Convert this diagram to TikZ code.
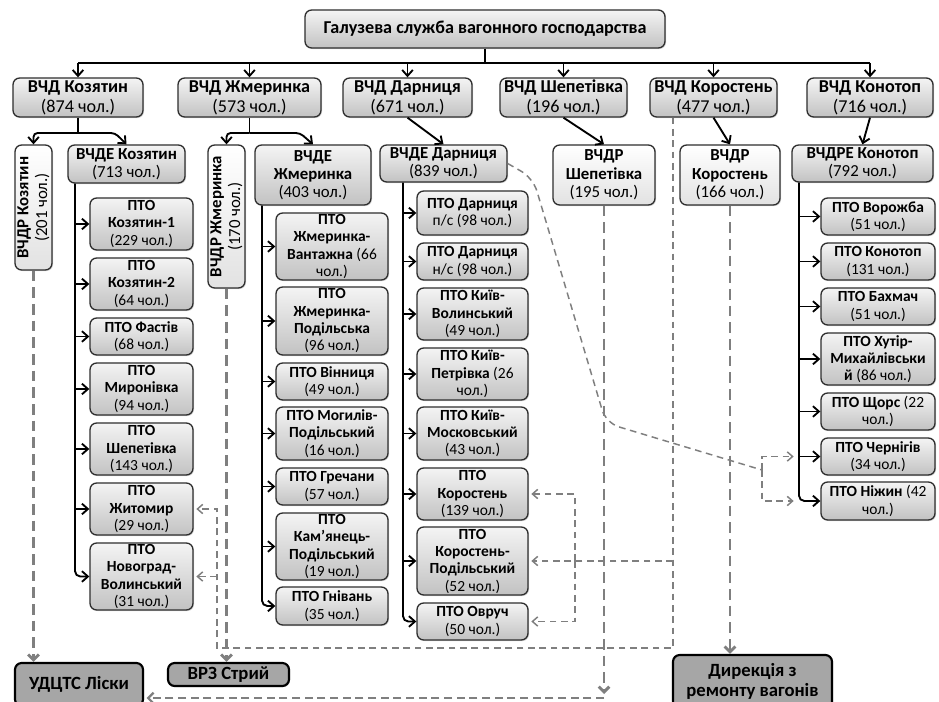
\documentclass[tikz,border=0pt]{standalone}
\usepackage{fontspec}
\setmainfont{Carlito}
\usetikzlibrary{arrows.meta,shadows,calc}
\definecolor{boxtop}{HTML}{F4F4F4}
\definecolor{boxbot}{HTML}{C2C2C2}
\definecolor{lbot}{HTML}{E2E2E2}
\definecolor{bordc}{HTML}{2E2E2E}
\definecolor{darkfill}{HTML}{A6A6A6}
\definecolor{dgray}{HTML}{7F7F7F}
\newcommand\tb[1]{\textbf{#1}}
\newcommand\mkbox[7]{\node[#1, minimum width={(#5-#3)*0.75pt}, minimum height={(#6-#4)*0.75pt}] (#2) at ({(#3+#5)/2},{(#4+#6)/2}) {#7};}
\newcommand\mkvbox[7]{\node[#1, rotate=90, minimum width={(#6-#4)*0.75pt}, minimum height={(#5-#3)*0.75pt}] (#2) at ({(#3+#5)/2},{(#4+#6)/2}) {#7};}
\tikzset{
  bx/.style={draw=bordc, line width=1pt, rounded corners=5pt, top color=boxtop, bottom color=boxbot,
    align=center, inner sep=0pt, font=\fontsize{11.6}{13}\selectfont,
    drop shadow={shadow xshift=0.8pt, shadow yshift=-0.8pt, opacity=0.3}},
  hbx/.style={bx, font=\fontsize{13.6}{15}\selectfont},
  mbx/.style={bx, font=\fontsize{12.6}{13.6}\selectfont},
  lbx/.style={bx, top color=white, bottom color=lbot, font=\fontsize{12.6}{14}\selectfont},
  dbx/.style={draw=black, line width=1.6pt, rounded corners=5pt, fill=darkfill, align=center, inner sep=0pt,
    font=\fontsize{14}{15.5}\selectfont\bfseries,
    drop shadow={shadow xshift=0.8pt, shadow yshift=-0.8pt, opacity=0.3}},
  ln/.style={draw=black, line width=1.4pt},
  arr/.style={ln, -{Straight Barb[length=4.5pt,width=8pt]}},
  dthick/.style={draw=dgray, line width=2.2pt, dash pattern=on 8pt off 4.5pt, -{Straight Barb[length=4pt,width=8pt]}},
  dmid/.style={draw=dgray, line width=1.6pt, dash pattern=on 6pt off 3.5pt, -{Straight Barb[length=4pt,width=8pt]}},
  dthin/.style={draw=dgray, line width=1.1pt, dash pattern=on 5pt off 3.5pt},
  dthinA/.style={dthin, -{Straight Barb[length=4pt,width=7pt]}, shorten >=2pt},
}
\begin{document}
\begin{tikzpicture}[x=0.75pt,y=-0.75pt]
\useasboundingbox (0,0) rectangle (939,702);
\clip (0,0) rectangle (939,702);
\fill[white] (0,0) rectangle (939,702);

% title and first row
\mkbox{hbx, font=\fontsize{13.6}{15}\selectfont\bfseries}{title}{305}{10}{665}{48}{Галузева служба вагонного господарства}
\mkbox{hbx}{vchd1}{13}{78}{143}{117}{\tb{ВЧД Козятин}\\(874 чол.)}
\mkbox{hbx}{vchd2}{178}{78}{321}{117}{\tb{ВЧД Жмеринка}\\(573 чол.)}
\mkbox{hbx}{vchd3}{343}{78}{472}{117}{\tb{ВЧД Дарниця}\\(671 чол.)}
\mkbox{hbx}{vchd4}{500}{78}{627}{117}{\tb{ВЧД Шепетівка}\\(196 чол.)}
\mkbox{hbx}{vchd5}{650}{78}{777}{117}{\tb{ВЧД Коростень}\\(477 чол.)}
\mkbox{hbx}{vchd6}{807}{78}{933}{117}{\tb{ВЧД Конотоп}\\(716 чол.)}

% second row
\mkvbox{lbx}{vchdr1}{15}{145}{52}{270}{\tb{ВЧДР Козятин}\\(201 чол.)}
\mkbox{mbx}{vchde1}{68}{145}{185}{183}{\tb{ВЧДЕ Козятин}\\(713 чол.)}
\mkvbox{lbx}{vchdr2}{208}{145}{245}{288}{\tb{ВЧДР Жмеринка}\\(170 чол.)}
\mkbox{mbx}{vchde2}{255}{145}{371}{205}{\tb{ВЧДЕ}\\\tb{Жмеринка}\\(403 чол.)}
\mkbox{mbx}{vchde3}{380}{145}{507}{182}{\tb{ВЧДЕ Дарниця}\\(839 чол.)}
\mkbox{lbx}{vchdr4}{553}{145}{655}{205}{\tb{ВЧДР}\\\tb{Шепетівка}\\(195 чол.)}
\mkbox{lbx}{vchdr5}{680}{145}{780}{205}{\tb{ВЧДР}\\\tb{Коростень}\\(166 чол.)}
\mkbox{mbx}{vchdre6}{792}{145}{933}{182}{\tb{ВЧДРЕ Конотоп}\\(792 чол.)}

% Kozyatyn column
\mkbox{bx}{k1}{90}{198}{193}{250}{\tb{ПТО}\\\tb{Козятин-1}\\(229 чол.)}
\mkbox{bx}{k2}{90}{258}{193}{310}{\tb{ПТО}\\\tb{Козятин-2}\\(64 чол.)}
\mkbox{bx}{k3}{90}{318}{193}{355}{\tb{ПТО Фастів}\\(68 чол.)}
\mkbox{bx}{k4}{90}{363}{193}{415}{\tb{ПТО}\\\tb{Миронівка}\\(94 чол.)}
\mkbox{bx}{k5}{90}{423}{193}{475}{\tb{ПТО}\\\tb{Шепетівка}\\(143 чол.)}
\mkbox{bx}{k6}{90}{483}{193}{535}{\tb{ПТО}\\\tb{Житомир}\\(29 чол.)}
\mkbox{bx}{k7}{90}{543}{193}{610}{\tb{ПТО}\\\tb{Новоград-}\\\tb{Волинський}\\(31 чол.)}

% Zhmerynka column
\mkbox{bx}{z1}{276}{213}{388}{280}{\tb{ПТО}\\\tb{Жмеринка-}\\\tb{Вантажна} (66\\чол.)}
\mkbox{bx}{z2}{276}{287}{388}{355}{\tb{ПТО}\\\tb{Жмеринка-}\\\tb{Подільська}\\(96 чол.)}
\mkbox{bx}{z3}{276}{363}{388}{400}{\tb{ПТО Вінниця}\\(49 чол.)}
\mkbox{bx}{z4}{276}{407}{388}{460}{\tb{ПТО Могилів-}\\\tb{Подільський}\\(16 чол.)}
\mkbox{bx}{z5}{276}{468}{388}{505}{\tb{ПТО Гречани}\\(57 чол.)}
\mkbox{bx}{z6}{276}{513}{388}{580}{\tb{ПТО}\\\tb{Кам’янець-}\\\tb{Подільський}\\(19 чол.)}
\mkbox{bx}{z7}{276}{587}{388}{625}{\tb{ПТО Гнівань}\\(35 чол.)}

% Darnytsia column
\mkbox{bx}{d1}{417}{191}{528}{235}{\tb{ПТО Дарниця}\\п/с (98 чол.)}
\mkbox{bx}{d2}{417}{243}{528}{280}{\tb{ПТО Дарниця}\\н/с (98 чол.)}
\mkbox{bx}{d3}{417}{288}{528}{340}{\tb{ПТО Київ-}\\\tb{Волинський}\\(49 чол.)}
\mkbox{bx}{d4}{417}{348}{528}{400}{\tb{ПТО Київ-}\\\tb{Петрівка} (26\\чол.)}
\mkbox{bx}{d5}{417}{407}{528}{460}{\tb{ПТО Київ-}\\\tb{Московський}\\(43 чол.)}
\mkbox{bx}{d6}{417}{468}{528}{520}{\tb{ПТО}\\\tb{Коростень}\\(139 чол.)}
\mkbox{bx}{d7}{417}{527}{528}{595}{\tb{ПТО}\\\tb{Коростень-}\\\tb{Подільський}\\(52 чол.)}
\mkbox{bx}{d8}{417}{603}{528}{640}{\tb{ПТО Овруч}\\(50 чол.)}

% Konotop column
\mkbox{bx}{n1}{821}{198}{935}{235}{\tb{ПТО Ворожба}\\(51 чол.)}
\mkbox{bx}{n2}{821}{243}{935}{280}{\tb{ПТО Конотоп}\\(131 чол.)}
\mkbox{bx}{n3}{821}{288}{935}{325}{\tb{ПТО Бахмач}\\(51 чол.)}
\mkbox{bx}{n4}{821}{333}{935}{385}{\tb{ПТО Хутір-}\\\tb{Михайлівськи}\\\tb{й} (86 чол.)}
\mkbox{bx}{n5}{821}{393}{935}{430}{\tb{ПТО Щорс} (22\\чол.)}
\mkbox{bx}{n6}{821}{438}{935}{475}{\tb{ПТО Чернігів}\\(34 чол.)}
\mkbox{bx}{n7}{821}{482}{935}{520}{\tb{ПТО Ніжин} (42\\чол.)}

% bottom boxes
\mkbox{dbx}{udcts}{15}{663}{143}{706}{УДЦТС Лiски}
\mkbox{dbx}{vrz}{168}{663}{289}{686}{ВРЗ Стрий}
\mkbox{dbx}{dyr}{673}{655}{832}{708}{Дирекція з\\ремонту вагонів}

% ---------- solid connectors ----------
\coordinate (bus) at (0,63);
\draw[ln] (title.south) -- (title.south |- bus);
\draw[ln] (vchd1.north |- bus) -- (vchd6.north |- bus);
\foreach \n in {1,...,6} \draw[arr] (vchd\n.north |- bus) -- (vchd\n.north);

\coordinate (split) at (0,133);
\coordinate (kz) at (115,133);
\coordinate (zh) at (300,133);
\draw[ln] (vchd1.south) -- (vchd1.south |- split);
\draw[arr, rounded corners=3pt] (vchd1.south |- split) -| (vchdr1.east);
\draw[arr, rounded corners=3pt] (vchd1.south |- split) -- (kz) -- (vchde1.north);
\draw[ln] (vchd2.south) -- (vchd2.south |- split);
\draw[arr, rounded corners=3pt] (vchd2.south |- split) -| (vchdr2.east);
\draw[arr, rounded corners=3pt] (vchd2.south |- split) -- (zh) -- (vchde2.north);
\draw[arr] (vchd3.south) -- (vchde3.north);
\draw[arr] (vchd4.south) -- (vchdr4.north);
\draw[arr] (vchd5.south) -- (vchdr5.north);
\draw[arr] (vchd6.south) -- (vchdre6.north);

% trunks
\coordinate (t1) at (75,0);
\coordinate (t2) at (262,0);
\coordinate (t3) at (403,0);
\coordinate (t4) at (799,0);
\draw[arr, rounded corners=4pt] (vchde1.south -| t1) |- (k7.west);
\foreach \b in {k1,k2,k3,k4,k5,k6} \draw[arr] (\b.west -| t1) -- (\b.west);
\draw[arr, rounded corners=4pt] (vchde2.south -| t2) |- (z7.west);
\foreach \b in {z1,z2,z3,z4,z5,z6} \draw[arr] (\b.west -| t2) -- (\b.west);
\draw[arr, rounded corners=4pt] (vchde3.south -| t3) |- (d8.west);
\foreach \b in {d1,d2,d3,d4,d5,d6,d7} \draw[arr] (\b.west -| t3) -- (\b.west);
\draw[arr, rounded corners=4pt] (vchdre6.south -| t4) |- (n7.west);
\foreach \b in {n1,n2,n3,n4,n5,n6} \draw[arr] (\b.west -| t4) -- (\b.west);

% ---------- dashed connectors ----------
\draw[dthick] (vchdr1.west) -- (vchdr1.west |- udcts.north);
\draw[dthick] (vchdr2.west) -- (vchdr2.west |- vrz.north);
\draw[dthick] (vchdr5.south) -- (vchdr5.south |- dyr.north);
\coordinate (sb) at (0,694);
\coordinate (lowline) at (0,698);
\draw[dthick] (vchdr4.south) -- (vchdr4.south |- sb);
\draw[dmid, shorten >=2pt] (vchdr4.south |- lowline) -- (udcts.east |- lowline);

\coordinate (kx) at (673,0);
\coordinate (ky) at (0,648);
\coordinate (lx) at (217,0);
\coordinate (jx) at (575,0);
\draw[dthinA] (vchd5.south -| kx) -- (kx |- ky) -- (lx |- ky) -- (k6.east -| lx) -- (k6.east);
\draw[dthinA] (k7.east -| lx) -- (k7.east);
\draw[dthinA] (d7.east -| kx) -- (d7.east);
\draw[dthinA] (d7.east -| jx) |- (d6.east);
\draw[dthinA] (d7.east -| jx) |- (d8.east);

\coordinate (c1) at (533,178);
\coordinate (c2) at (606,423);
\coordinate (cj) at (762,470);
\draw[dthin, rounded corners=10pt] (vchde3.east) -- (c1) -- (c2) -- (cj);
\draw[dthinA, shorten >=4pt] (cj) |- (n6.west -| t4);
\draw[dthinA, shorten >=4pt] (cj) |- (n7.west -| t4);
\end{tikzpicture}
\end{document}
